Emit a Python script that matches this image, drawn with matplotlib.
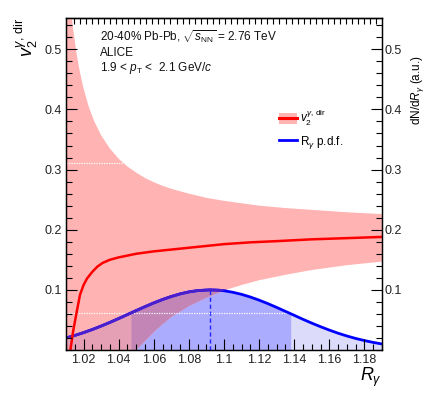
import matplotlib
matplotlib.use('Agg')
import matplotlib.pyplot as plt
import numpy as np
from matplotlib.ticker import MultipleLocator, NullFormatter
from matplotlib.patches import Patch
from matplotlib.lines import Line2D
from matplotlib.legend_handler import HandlerTuple

plt.rcParams['font.family'] = ['Liberation Sans', 'DejaVu Sans']
plt.rcParams['mathtext.fontset'] = 'custom'
plt.rcParams['mathtext.rm'] = 'Liberation Sans'
plt.rcParams['mathtext.it'] = 'Liberation Sans:italic'
plt.rcParams['mathtext.sf'] = 'Liberation Sans'
plt.rcParams['mathtext.bf'] = 'Liberation Sans:bold'

# ---------------- data ----------------
band_x = [1.010, 1.012, 1.014, 1.016, 1.018, 1.020, 1.023, 1.026, 1.030, 1.035,
          1.040, 1.045, 1.050, 1.055, 1.060, 1.065, 1.070, 1.080, 1.090, 1.100,
          1.110, 1.120, 1.135, 1.150, 1.170, 1.190]
band_hi = [0.668, 0.590, 0.535, 0.493, 0.461, 0.435, 0.404, 0.381, 0.357, 0.335,
           0.318, 0.305, 0.295, 0.286, 0.279, 0.273, 0.268, 0.260, 0.253, 0.248,
           0.244, 0.240, 0.236, 0.233, 0.229, 0.226]
band_lo = [0.000, 0.000, 0.000, 0.000, 0.000, 0.000, 0.000, 0.000, 0.000, 0.000,
           0.000, 0.000, 0.000, 0.015, 0.030, 0.043, 0.055, 0.073, 0.087, 0.099,
           0.108, 0.116, 0.125, 0.133, 0.141, 0.147]

v2_x = [1.0125, 1.014, 1.016, 1.018, 1.020, 1.022, 1.025, 1.028, 1.031, 1.035,
        1.040, 1.045, 1.050, 1.060, 1.070, 1.080, 1.090, 1.100, 1.115, 1.130,
        1.150, 1.170, 1.190]
v2_y = [0.000, 0.030, 0.062, 0.092, 0.108, 0.119, 0.130, 0.139, 0.145, 0.150,
        0.154, 0.157, 0.160, 0.164, 0.167, 0.170, 0.173, 0.176, 0.179, 0.181,
        0.184, 0.186, 0.188]

pdf_x = [1.010, 1.015, 1.020, 1.025, 1.030, 1.035, 1.040, 1.047, 1.050, 1.055,
         1.060, 1.065, 1.070, 1.075, 1.080, 1.085, 1.092, 1.097, 1.100, 1.105,
         1.110, 1.115, 1.120, 1.125, 1.130, 1.138, 1.145, 1.150, 1.155, 1.160,
         1.165, 1.170, 1.175, 1.180, 1.185, 1.190]
pdf_y = [0.0200, 0.0242, 0.0289, 0.0341, 0.0398, 0.0459, 0.0523, 0.0616, 0.0656, 0.0721,
         0.0783, 0.0840, 0.0890, 0.0933, 0.0966, 0.0988, 0.1000, 0.0994, 0.0985, 0.0960,
         0.0925, 0.0881, 0.0829, 0.0771, 0.0708, 0.0603, 0.0510, 0.0447, 0.0387, 0.0331,
         0.0279, 0.0233, 0.0192, 0.0157, 0.0126, 0.0100]

peak_x, peak_y = 1.092, 0.100
sig_lo, sig_hi = 1.047, 1.138
sig_level = 0.062
upper_line_y, upper_line_xend = 0.311, 1.0425

ann_lines = [r"20-40% Pb-Pb, $\sqrt{s_{\rm NN}}$ = 2.76 TeV", "ALICE",
             r"1.9 < $p_{\rm T}$ <  2.1 GeV/$c$"]
leg_labels = [r"$v_2^{\gamma,\,\rm dir}$", r"R$_\gamma$ p.d.f."]

# ---------------- figure ----------------
W, H = 438, 398
fig = plt.figure(figsize=(W / 100, H / 100), dpi=100)
L, R, T, B = 66, 382, 18, 350
ax = fig.add_axes([L / W, 1 - B / H, (R - L) / W, (B - T) / H])
ax.set_xlim(1.01, 1.19)
ax.set_ylim(0, 0.552)

pink = '#ffb3b3'
px = np.array(pdf_x)
py = np.array(pdf_y)
mask = (px >= sig_lo - 1e-9) & (px <= sig_hi + 1e-9)

ax.fill_between(px, 0, py, color='#dcdcfa', lw=0, zorder=1)
ax.fill_between(px, 0, py, where=mask, color='#acacff', lw=0, zorder=2)
band = ax.fill_between(band_x, band_lo, band_hi, color=pink, lw=0, zorder=3)
bpath = band.get_paths()[0]
ov1 = ax.fill_between(px, 0, py, color='#e6a0b6', lw=0, zorder=4)
ov1.set_clip_path(bpath, ax.transData)
ov2 = ax.fill_between(px, 0, py, where=mask, color='#c285b6', lw=0, zorder=5)
ov2.set_clip_path(bpath, ax.transData)

ax.plot([peak_x, peak_x], [0, peak_y], color='#2222ff', lw=1.0, ls=(0, (3, 2)), zorder=6)
ax.plot([1.01, upper_line_xend], [upper_line_y, upper_line_y], color='white', lw=0.9,
        ls=(0, (1, 1)), zorder=6)
ax.plot([1.01, sig_hi], [sig_level, sig_level], color='white', lw=0.9,
        ls=(0, (1, 1)), zorder=6)

ax.plot(px, py, color='#0000ff', lw=2.0, zorder=7, solid_capstyle='butt')
pl2, = ax.plot(px, py, color='#4c1fcc', lw=2.0, zorder=7.5, solid_capstyle='butt')
pl2.set_clip_path(bpath, ax.transData)
ax.plot(v2_x, v2_y, color='#ff0000', lw=1.8, zorder=8)

# ---------------- axes styling ----------------
for s in ax.spines.values():
    s.set_linewidth(0.9)
    s.set_zorder(20)
ax.xaxis.set_zorder(20)
ax.yaxis.set_zorder(20)
ax.xaxis.set_minor_locator(MultipleLocator(0.005))
ax.yaxis.set_minor_locator(MultipleLocator(0.02))
ax.set_xticks([1.02, 1.04, 1.06, 1.08, 1.10, 1.12, 1.14, 1.16, 1.18])
ax.set_xticklabels(['1.02', '1.04', '1.06', '1.08', '1.1', '1.12', '1.14', '1.16', '1.18'])
ax.set_yticks([0.1, 0.2, 0.3, 0.4, 0.5])
ax.set_yticklabels(['0.1', '0.2', '0.3', '0.4', '0.5'])
ax.tick_params(axis='both', which='major', direction='in', length=8, width=0.8,
               labelsize=9, pad=3, colors='black', labelcolor='#222222')
ax.tick_params(axis='both', which='minor', direction='in', length=4, width=0.8)
ax.tick_params(top=False, right=False, which='both')

ax2 = ax.twinx()
ax2.set_ylim(0, 0.552)
ax2.set_yticks([0.1, 0.2, 0.3, 0.4, 0.5])
ax2.set_yticklabels(['0.1', '0.2', '0.3', '0.4', '0.5'])
ax2.yaxis.set_minor_locator(MultipleLocator(0.02))
ax2.tick_params(axis='y', which='major', direction='in', length=8, width=0.8,
                labelsize=9, pad=2, labelcolor='#222222')
ax2.tick_params(axis='y', which='minor', direction='in', length=4, width=0.8)
for s in ax2.spines.values():
    s.set_linewidth(0.9)

sec = ax.secondary_xaxis('top')
sec.xaxis.set_major_locator(MultipleLocator(0.00345))
sec.xaxis.set_major_formatter(NullFormatter())
sec.tick_params(direction='in', length=4, width=0.8)
sec.spines['top'].set_linewidth(0.9)

# ---------------- texts ----------------
ys = [37, 52.5, 68]
for t, y in zip(ann_lines, ys):
    fig.text(100 / W, 1 - y / H, t, fontsize=8.5, ha='left', va='center', color='#111111')

fig.text(382 / W, 1 - 377 / H, r"$R_\gamma$", fontsize=13, ha='right', va='center')
fig.text(26 / W, 1 - 18 / H, r"$v_2^{\gamma,\,\rm dir}$", fontsize=13, rotation=90,
         ha='center', va='top')
fig.text(418 / W, 1 - 90 / H, r"dN/d$R_\gamma$ (a.u.)", fontsize=8.5, rotation=90,
         ha='center', va='center')

h1 = (Patch(facecolor=pink, edgecolor='none'), Line2D([], [], color='#ff0000', lw=2.2))
h2 = Line2D([], [], color='#0000ff', lw=2.0)
ax.legend(handles=[h1, h2], labels=leg_labels, handler_map={tuple: HandlerTuple(ndivide=1)},
          loc='upper left', bbox_to_anchor=((279 - L) / (R - L), (B - 108) / (B - T)),
          frameon=False, fontsize=8.5, handlelength=1.5, handletextpad=0.3,
          borderpad=0, borderaxespad=0, labelspacing=0.5, handleheight=1.0)

fig.savefig('out.png', dpi=100)
